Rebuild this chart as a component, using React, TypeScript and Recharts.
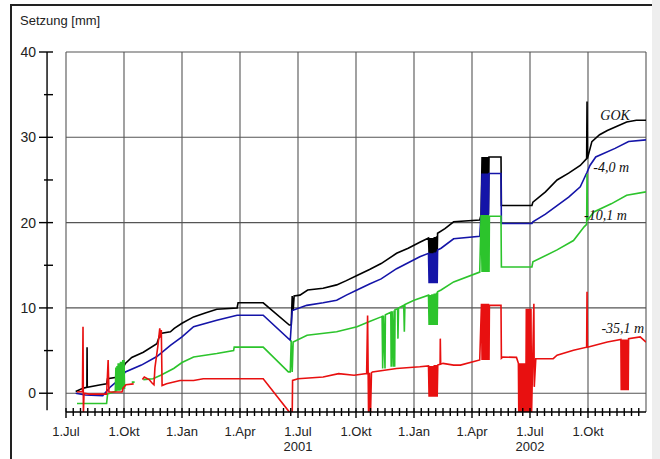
import { CartesianGrid, Line, LineChart, ReferenceDot, ReferenceLine, XAxis, YAxis } from 'recharts';

// [month since 1.Jul 2000, settlement mm]; null = gap in record
type Pt = [number, number | null];

const gok: Pt[] = [
  [0.5, 0.2], [0.9, 0.6], [1.08, 0.7], [1.09, 5.4], [1.1, 0.7], [1.8, 1.0], [2.1, 1.1], [2.15, 1.7],
  [2.7, 1.9], [2.9, 2.7], [3.07, 3.5], [3.4, 4.2], [4.0, 4.8], [4.7, 5.8], [4.88, 7.0], [5.4, 7.2],
  [5.6, 7.6], [6.0, 8.2], [6.6, 8.95], [7.2, 9.4], [7.8, 9.85], [8.85, 10.0], [8.9, 10.6], [10.2, 10.6],
  [11.55, 8.0], [11.65, 8.0], [11.7, 11.4], [11.75, 9.7], [11.8, 11.4], [12.1, 11.5], [12.5, 12.1],
  [13.3, 12.3], [14.0, 12.7], [14.5, 13.2], [15.05, 13.8], [15.7, 14.5], [16.3, 15.2], [17.1, 16.4],
  [17.7, 17.0], [18.3, 17.7], [18.75, 18.2],
  [18.78, 16.3], [18.81, 18.2], [18.84, 16.3], [18.87, 18.2], [18.9, 16.3], [18.93, 18.2], [18.96, 16.3],
  [18.99, 18.2], [19.02, 16.3], [19.05, 18.3], [19.08, 16.3], [19.11, 18.3], [19.14, 16.3], [19.17, 18.4],
  [19.2, 16.3], [19.22, 18.75], [19.6, 19.3], [20.05, 20.1], [21.4, 20.3], [21.47, 20.9],
  [21.52, 27.7], [21.55, 21.0], [21.58, 27.7], [21.61, 21.0], [21.64, 27.7], [21.67, 21.0], [21.7, 27.7],
  [21.73, 21.0], [21.76, 27.7], [21.79, 21.0], [21.82, 27.7], [21.85, 21.0], [21.88, 27.7],
  [22.5, 27.7], [22.52, 22.0], [24.1, 22.0], [24.15, 22.4], [24.8, 23.6],
  [25.4, 25.0], [26.0, 25.8], [26.6, 26.7], [26.93, 27.5], [26.95, 34.2], [26.97, 27.5], [27.2, 29.5],
  [27.6, 30.3], [28.0, 30.8], [28.5, 31.3], [29.0, 31.8], [29.5, 32.0], [30, 32.0],
];

const m4: Pt[] = [
  [0.5, 0.0], [1.0, -0.2], [1.9, -0.3], [2.3, 0.75], [2.9, 1.9], [3.07, 2.5], [3.9, 3.3], [4.7, 4.3],
  [5.4, 5.6], [6.0, 6.6], [6.6, 7.8], [7.8, 8.55], [8.85, 9.15], [10.2, 9.15], [11.6, 6.2], [11.7, 9.7],
  [12.45, 10.3], [13.3, 10.6], [14.0, 10.9], [14.5, 11.5], [15.05, 12.1], [15.7, 12.8], [16.3, 13.4],
  [17.1, 14.6], [17.7, 15.3], [18.3, 16.0], [18.75, 16.4],
  [18.78, 12.9], [18.81, 16.4], [18.84, 12.9], [18.87, 16.4], [18.9, 12.9], [18.93, 16.4], [18.96, 12.9],
  [18.99, 16.4], [19.02, 12.9], [19.05, 16.5], [19.08, 12.9], [19.11, 16.5], [19.14, 12.9], [19.17, 16.6],
  [19.2, 12.9], [19.22, 16.8], [19.4, 17.0], [20.05, 18.1], [21.4, 18.4], [21.47, 20.9],
  [21.52, 25.75], [21.55, 20.9], [21.58, 25.75], [21.61, 20.9], [21.64, 25.75], [21.67, 20.9],
  [21.7, 25.75], [21.73, 20.9], [21.76, 25.75], [21.79, 20.9], [21.82, 25.75], [21.85, 20.9],
  [21.88, 25.75], [22.5, 25.75], [22.52, 19.9], [24.1, 19.9], [24.15, 20.1],
  [24.8, 21.0], [25.4, 22.0], [26.0, 23.0], [26.6, 24.2], [26.95, 25.9], [27.1, 26.7], [27.4, 27.7],
  [28.4, 28.7], [29.1, 29.5], [30, 29.7],
];

const m10: Pt[] = [
  [0.57, -1.2], [2.1, -1.2], [2.15, -0.1], [2.55, 0.2], [2.58, 3.0], [2.61, 0.2], [2.64, 3.2], [2.67, 0.3],
  [2.7, 3.5], [2.73, 0.3], [2.76, 3.5], [2.79, 0.3], [2.82, 3.7], [2.85, 0.4], [2.88, 3.7], [2.91, 0.5],
  [2.94, 3.9], [2.97, 0.5], [3.0, 3.9], [3.03, 0.5], [3.1, null], [3.4, 1.3], [3.55, 1.3], [3.7, null],
  [4.0, 1.6], [4.5, 1.7], [4.9, 2.1], [5.57, 2.9], [6.0, 3.6], [6.6, 4.25], [7.8, 4.65], [8.67, 5.0],
  [8.7, 5.4], [10.2, 5.4], [11.5, 2.5], [11.6, 2.5], [11.65, 6.2], [11.7, 2.5], [11.75, 6.0], [12.47, 6.8],
  [14.0, 7.2], [15.05, 7.8], [15.7, 8.4], [16.3, 8.95], [16.35, 9.0], [16.38, 2.9], [16.42, 9.1],
  [16.5, 2.9], [16.52, 9.2], [16.8, 9.5], [16.82, 3.1], [16.87, 9.6], [16.92, 3.1], [16.97, 9.7],
  [17.0, 3.1], [17.02, 9.8], [17.15, 9.9], [17.17, 6.4], [17.2, 10.0], [17.47, 10.3], [17.5, 7.2],
  [17.53, 10.4], [18.0, 10.9], [18.75, 11.5],
  [18.78, 8.0], [18.81, 11.5], [18.84, 8.0], [18.87, 11.5], [18.9, 8.0], [18.93, 11.6], [18.96, 8.0],
  [18.99, 11.6], [19.02, 8.0], [19.05, 11.7], [19.08, 8.0], [19.11, 11.7], [19.14, 8.0], [19.17, 11.8],
  [19.2, 8.0], [19.22, 11.9], [19.4, 12.1], [20.05, 13.05], [21.4, 14.2], [21.47, 20.9],
  [21.52, 14.2], [21.55, 20.9], [21.58, 14.2], [21.61, 20.9], [21.64, 14.2], [21.67, 20.9], [21.7, 14.2],
  [21.73, 20.9], [21.76, 14.2], [21.79, 20.9], [21.82, 14.2], [21.85, 20.9], [21.88, 14.2],
  [21.9, 20.75], [22.5, 20.75], [22.52, 14.8], [24.1, 14.8], [24.15, 15.4], [25.4, 16.8],
  [26.25, 17.9], [26.8, 19.5], [26.93, 19.8], [26.95, 25.7], [26.97, 20.3], [27.05, 20.5], [27.3, 21.25],
  [28.2, 22.2], [29.0, 23.2], [30, 23.6],
];

const m35: Pt[] = [
  [0.57, 0.15], [0.85, 0.2], [0.88, 7.8], [0.9, -2.5], [0.93, 0.0], [1.2, -0.1], [2.1, -0.1], [2.18, 3.9],
  [2.22, 0.15], [2.9, 0.15], [2.95, 0.6], [3.1, 1.0], [3.5, 1.1], [3.7, null], [3.95, 1.6], [4.05, 1.9],
  [4.3, 1.6], [4.45, 1.2], [4.55, 1.0], [4.6, 3.0], [4.75, 5.5], [4.85, 7.6], [4.9, 6.5], [4.93, 7.4],
  [4.97, 0.9], [5.2, 1.1], [5.9, 1.5], [6.6, 1.5], [7.1, 1.7], [8.85, 1.7], [10.2, 1.7], [11.55, -2.2],
  [11.6, -2.5], [11.7, -2.5], [11.72, 1.5], [12.0, 1.7], [13.3, 1.9], [14.1, 2.3], [14.9, 2.1],
  [15.55, 2.3], [15.6, 9.1], [15.65, -2.5], [15.7, 2.4], [15.75, -2.5], [15.8, 2.4], [15.85, 2.5],
  [17.1, 2.9], [18.3, 3.1], [18.75, 3.2],
  [18.78, -0.4], [18.81, 3.2], [18.84, -0.4], [18.87, 3.2], [18.9, -0.4], [18.93, 3.2], [18.96, -0.4],
  [18.99, 3.2], [19.02, -0.4], [19.05, 3.3], [19.08, -0.4], [19.11, 3.3], [19.14, -0.4], [19.17, 3.3],
  [19.2, -0.4], [19.23, 3.3], [19.35, 3.4], [19.36, 6.4], [19.38, 3.4],
  [19.5, 3.5], [20.05, 3.3], [20.4, 3.3], [21.4, 3.9],
  [21.49, 10.5], [21.52, 3.9], [21.55, 10.5], [21.58, 3.9], [21.61, 10.5], [21.64, 3.9], [21.67, 10.5],
  [21.7, 3.9], [21.73, 10.5], [21.76, 3.9], [21.79, 10.5], [21.82, 3.9], [21.85, 10.5], [21.88, 3.9],
  [21.9, 10.3], [22.5, 10.3], [22.52, 4.1], [22.6, 4.25], [23.3, 4.2], [23.4, 3.5],
  [23.42, -2.5], [23.45, 3.5], [23.48, -2.5], [23.51, 3.5], [23.54, -2.5], [23.57, 3.5], [23.6, -2.5],
  [23.63, 3.5], [23.66, -2.5], [23.69, 3.5], [23.72, -2.5], [23.75, 3.5], [23.78, -2.5], [23.81, 9.9],
  [23.84, -2.5], [23.87, 9.9], [23.9, -2.5], [23.93, 9.9], [23.96, -2.5], [23.99, 9.9], [24.02, -2.5],
  [24.05, 9.9], [24.08, -2.5], [24.2, 10.5], [24.22, 0.75], [24.3, 4.05],
  [25.2, 4.05], [25.4, 4.45], [26.25, 5.05], [26.93, 5.4], [26.95, 11.9], [26.97, 5.4], [28.0, 6.0],
  [28.7, 6.3], [28.72, 0.35], [28.75, 6.3], [28.78, 0.35], [28.81, 6.3], [28.84, 0.35], [28.87, 6.3],
  [28.9, 0.35], [28.93, 6.3], [28.96, 0.35], [28.99, 6.3], [29.02, 0.35], [29.05, 6.3], [29.08, 0.35],
  [29.1, 6.4], [29.7, 6.6], [30, 6.0],
];

const quarterNames = ['1.Jul', '1.Okt', '1.Jan', '1.Apr', '1.Jul', '1.Okt', '1.Jan', '1.Apr', '1.Jul', '1.Okt'];
const yearNames: Record<number, string> = { 4: '2001', 8: '2002' };
const yTicks = [0, 5, 10, 15, 20, 25, 30, 35, 40];
const gridX = [0, 3, 6, 9, 12, 15, 18, 21, 24, 27, 30];
const gridY = [0, 10, 20, 30, 40];
const xTicks = Array.from({ length: 80 }, (_, i) => i * 0.375);

const seriesLabels = [
  { text: 'GOK', m: 28.4, v: 32.6 },
  { text: '-4,0 m', m: 28.2, v: 26.5 },
  { text: '-10,1 m', m: 27.9, v: 20.9 },
  { text: '-35,1 m', m: 28.8, v: 7.7 },
];

const toRows = (pts: Pt[]) => pts.map(([m, v]) => ({ m, v }));
const sans = '"Liberation Sans", Arial, sans-serif';

function XTick({ x, y, payload }: any) {
  const q = Math.round(payload.value / 3);
  const major = Math.abs(payload.value - q * 3) < 1e-6;
  return (
    <g>
      <line x1={x} x2={x} y1={y - 4} y2={y + (major ? 6 : 4)} stroke="#000" strokeWidth={1.4} />
      {major && (
        <text x={x} y={y + 24} textAnchor="middle" fontSize={13} fontFamily={sans} fill="#222">
          {quarterNames[q]}
        </text>
      )}
      {major && yearNames[q] && (
        <text x={x} y={y + 39} textAnchor="middle" fontSize={13} fontFamily={sans} fill="#222">
          {yearNames[q]}
        </text>
      )}
    </g>
  );
}

function YTick({ x, y, payload }: any) {
  const major = payload.value % 10 === 0;
  return (
    <g>
      <line x1={x - (major ? 27 : 22)} x2={x - 13} y1={y} y2={y} stroke="#000" strokeWidth={1.4} />
      {major && (
        <text x={x - 30} y={y + 5} textAnchor="end" fontSize={14} fontFamily={sans} fill="#222">
          {payload.value}
        </text>
      )}
    </g>
  );
}

export default function App() {
  return (
    <div style={{ position: 'absolute', left: 0, top: 0, width: 660, height: 459, background: '#fff', overflow: 'hidden' }}>
      <div style={{ position: 'absolute', left: 10, top: 4, width: 640, height: 470, borderLeft: '2px solid #222', borderTop: '2px solid #222' }} />
      <div style={{ position: 'absolute', left: 652, top: 0, width: 8, height: 459, background: '#eee' }} />
      <div style={{ position: 'absolute', left: 20, top: 13, fontFamily: sans, fontSize: 13, color: '#222' }}>Setzung [mm]</div>
      <LineChart width={660} height={459} margin={{ top: 52, right: 14, bottom: 12, left: 6 }} style={{ position: 'absolute', left: 0, top: 0 }}>
        <CartesianGrid stroke="#555" strokeWidth={1.1} verticalValues={gridX} horizontalValues={gridY} />
        <XAxis
          dataKey="m"
          type="number"
          domain={[0, 30]}
          allowDataOverflow
          ticks={xTicks}
          interval={0}
          height={35}
          tickSize={0}
          tickMargin={0}
          tickLine={false}
          axisLine={{ stroke: '#000', strokeWidth: 1.6 }}
          tick={<XTick />}
        />
        <YAxis
          type="number"
          domain={[-2.2, 40]}
          allowDataOverflow
          ticks={yTicks}
          interval={0}
          width={60}
          tickSize={0}
          tickMargin={0}
          tickLine={false}
          axisLine={false}
          tick={<YTick />}
        />
        <ReferenceLine segment={[{ x: -0.98, y: -2.0 }, { x: -0.98, y: 40 }]} stroke="#000" strokeWidth={1.4} ifOverflow="visible" />
        <Line data={toRows(gok)} dataKey="v" type="linear" stroke="#000" strokeWidth={1.6} dot={false} isAnimationActive={false} />
        <Line data={toRows(m4)} dataKey="v" type="linear" stroke="#1414a8" strokeWidth={1.6} dot={false} isAnimationActive={false} />
        <Line data={toRows(m10)} dataKey="v" type="linear" stroke="#2cc42c" strokeWidth={1.6} dot={false} isAnimationActive={false} />
        <Line data={toRows(m35)} dataKey="v" type="linear" stroke="#e81010" strokeWidth={1.6} dot={false} isAnimationActive={false} />
        {seriesLabels.map((l) => (
          <ReferenceDot
            key={l.text}
            x={l.m}
            y={l.v}
            r={0}
            fill="none"
            stroke="none"
            label={{ value: l.text, position: 'center', fill: '#111', fontSize: 14, fontStyle: 'italic', fontFamily: '"Liberation Serif", serif' }}
          />
        ))}
      </LineChart>
    </div>
  );
}
